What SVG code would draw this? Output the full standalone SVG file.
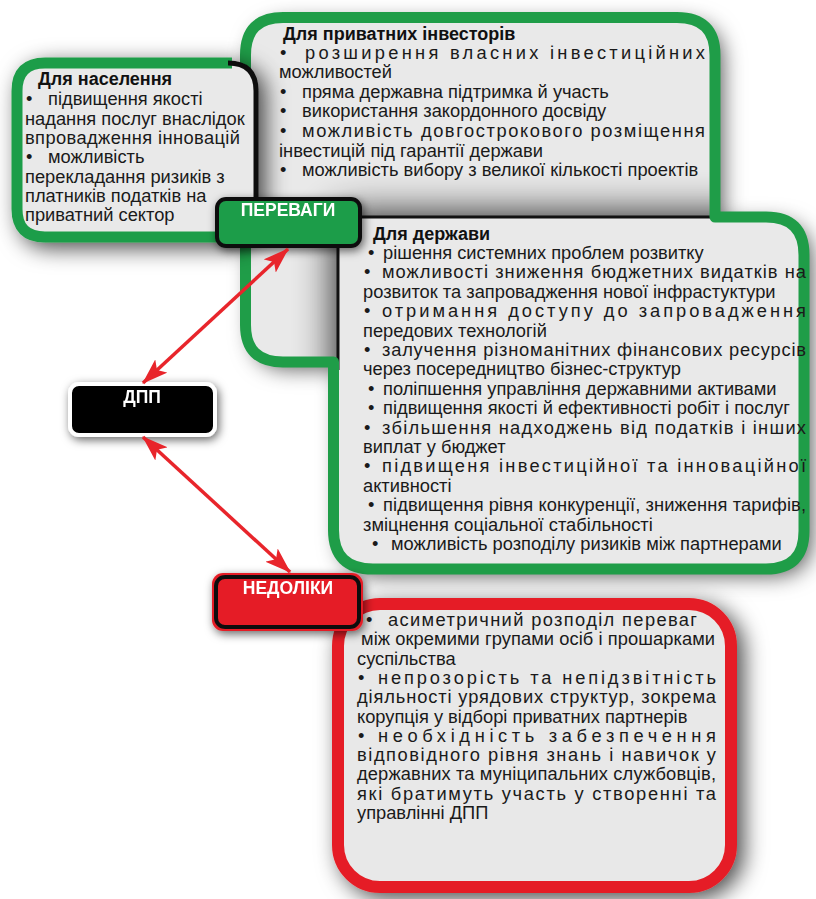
<svg xmlns="http://www.w3.org/2000/svg" width="816" height="899" viewBox="0 0 816 899">
<defs>
<style>
.t{font-family:"Liberation Sans",Arial,sans-serif;font-size:18.3px;fill:#1a1a1a}
.h{font-family:"Liberation Sans",Arial,sans-serif;font-size:18px;font-weight:bold;fill:#111}
.lbl{font-family:"Liberation Sans",Arial,sans-serif;font-size:17.5px;font-weight:bold;fill:#fff;text-anchor:middle}
.gr{stroke:#1f9d48;stroke-width:11;fill:none;stroke-linejoin:round}
.conn{stroke:#e8252b;stroke-width:3.5;fill:none;marker-start:url(#ah);marker-end:url(#ah)}
</style>
<filter id="sh" x="-25%" y="-25%" width="150%" height="150%">
<feGaussianBlur in="SourceAlpha" stdDeviation="11"/>
<feOffset dx="7" dy="6" result="b"/>
<feFlood flood-color="#000" flood-opacity="0.7"/>
<feComposite in2="b" operator="in"/>
<feMerge><feMergeNode/><feMergeNode in="SourceGraphic"/></feMerge>
</filter>
<filter id="sh2" x="-30%" y="-40%" width="160%" height="180%">
<feGaussianBlur in="SourceAlpha" stdDeviation="5"/>
<feOffset dx="2" dy="3" result="b"/>
<feFlood flood-color="#000" flood-opacity="0.6"/>
<feComposite in2="b" operator="in"/>
<feMerge><feMergeNode/><feMergeNode in="SourceGraphic"/></feMerge>
</filter>
<filter id="bl" x="-50%" y="-50%" width="200%" height="200%"><feGaussianBlur stdDeviation="20"/></filter>
<clipPath id="bigClip">
<path d="M245.5,55 Q245.5,17.5 283,17.5 L677,17.5 Q715,17.5 715,55 L715,217 L766,217 Q804,217 804,255 L804,531 Q804,569 766,569 L373,569 Q333.5,569 333.5,530 L333.5,362 L283,362 Q245.5,362 245.5,325 Z"/>
</clipPath>
<marker id="ah" viewBox="0 0 26 18" refX="25" refY="9" markerWidth="26" markerHeight="18" markerUnits="userSpaceOnUse" orient="auto-start-reverse">
<path d="M0,0 L26,9 L0,18 L6,9 Z" fill="#e8252b"/>
</marker>
</defs>
<rect width="816" height="899" fill="#fff"/>

<g id="advantages-frame">
<path d="M245.5,55 Q245.5,17.5 283,17.5 L677,17.5 Q715,17.5 715,55 L715,217 L766,217 Q804,217 804,255 L804,531 Q804,569 766,569 L373,569 Q333.5,569 333.5,530 L333.5,362 L283,362 Q245.5,362 245.5,325 Z" fill="#e9e9e9" filter="url(#sh)"/>
<g clip-path="url(#bigClip)">
<rect x="336" y="215" width="480" height="400" fill="#000" opacity="0.9" filter="url(#bl)"/>
<rect x="338" y="217" width="480" height="400" fill="#e9e9e9"/>
<path d="M712,217 L338,217 L338,370" stroke="#111" stroke-width="3" fill="none"/>
</g>
<path class="gr" d="M245.5,55 Q245.5,17.5 283,17.5 L677,17.5 Q715,17.5 715,55 L715,217 L766,217 Q804,217 804,255 L804,531 Q804,569 766,569 L373,569 Q333.5,569 333.5,530 L333.5,362 L283,362 Q245.5,362 245.5,325 Z"/>
</g>

<g id="investors">
<text class="h" x="283" y="40">Для приватних інвесторів</text>
<text class="t" x="280" y="59">•</text><text class="t" x="305" y="59" textLength="400" lengthAdjust="spacing">розширення власних інвестиційних</text>
<text class="t" x="279" y="78">можливостей</text>
<text class="t" x="280" y="98">•</text><text class="t" x="302" y="98">пряма державна підтримка й участь</text>
<text class="t" x="280" y="117">•</text><text class="t" x="302" y="117">використання закордонного досвіду</text>
<text class="t" x="280" y="137">•</text><text class="t" x="302" y="137" textLength="403" lengthAdjust="spacing">можливість довгострокового розміщення</text>
<text class="t" x="279" y="157">інвестицій під гарантії держави</text>
<text class="t" x="280" y="176">•</text><text class="t" x="302" y="176">можливість вибору з великої кількості проектів</text>
</g>

<g id="population" filter="url(#sh)">
<rect x="17" y="63" width="239" height="174" rx="28" fill="#e9e9e9"/>
<path class="gr" d="M232,63 L45,63 Q17,63 17,91 L17,209 Q17,237 45,237 L240,237"/>
<path d="M228,63 Q256,63 256,91 L256,237" stroke="#111" stroke-width="5" fill="none"/>
</g>
<g id="population-text">
<text class="h" x="38" y="85">Для населення</text>
<text class="t" x="26" y="105">•</text><text class="t" x="48" y="105">підвищення якості</text>
<text class="t" x="25" y="125">надання послуг внаслідок</text>
<text class="t" x="25" y="144" textLength="215" lengthAdjust="spacing">впровадження інновацій</text>
<text class="t" x="26" y="163">•</text><text class="t" x="48" y="163">можливість</text>
<text class="t" x="25" y="183">перекладання ризиків з</text>
<text class="t" x="25" y="202">платників податків на</text>
<text class="t" x="25" y="221">приватний сектор</text>
</g>

<g id="state">
<text class="h" x="373" y="240">Для держави</text>
<text class="t" x="368" y="259">•</text><text class="t" x="383" y="259">рішення системних проблем розвитку</text>
<text class="t" x="364" y="278.4">•</text><text class="t" x="382" y="278.4" textLength="424" lengthAdjust="spacing">можливості зниження бюджетних видатків на</text>
<text class="t" x="363" y="297.8">розвиток та запровадження нової інфрастуктури</text>
<text class="t" x="364" y="317.2">•</text><text class="t" x="382" y="317.2" textLength="424" lengthAdjust="spacing">отримання доступу до запровадження</text>
<text class="t" x="363" y="336.6">передових технологій</text>
<text class="t" x="364" y="356">•</text><text class="t" x="382" y="356" textLength="424" lengthAdjust="spacing">залучення різноманітних фінансових ресурсів</text>
<text class="t" x="363" y="375.4">через посередництво бізнес-структур</text>
<text class="t" x="368" y="394.8">•</text><text class="t" x="383" y="394.8">поліпшення управління державними активами</text>
<text class="t" x="368" y="414.2">•</text><text class="t" x="383" y="414.2">підвищення якості й ефективності робіт і послуг</text>
<text class="t" x="364" y="433.6">•</text><text class="t" x="382" y="433.6" textLength="424" lengthAdjust="spacing">збільшення надходжень від податків і інших</text>
<text class="t" x="363" y="453">виплат у бюджет</text>
<text class="t" x="364" y="472.4">•</text><text class="t" x="382" y="472.4" textLength="424" lengthAdjust="spacing">підвищеня інвестиційної та інноваційної</text>
<text class="t" x="363" y="491.8">активності</text>
<text class="t" x="368" y="511.2">•</text><text class="t" x="383" y="511.2" textLength="423" lengthAdjust="spacing">підвищення рівня конкуренції, зниження тарифів,</text>
<text class="t" x="363" y="530.6">зміцнення соціальної стабільності</text>
<text class="t" x="372" y="550">•</text><text class="t" x="391" y="550">можливість розподілу ризиків між партнерами</text>
</g>

<g id="label-advantages" filter="url(#sh2)">
<rect x="217" y="199" width="143" height="47" rx="9" fill="#1f9d48" stroke="#111" stroke-width="4"/>
<text class="lbl" x="288" y="216">ПЕРЕВАГИ</text>
</g>

<g id="disadvantages">
<rect x="338" y="604" width="393" height="283" rx="42" fill="#e8e8e8" stroke="#e51e25" stroke-width="12" filter="url(#sh)"/>
<text class="t" x="366" y="626">•</text><text class="t" x="388" y="626" textLength="309" lengthAdjust="spacing">асиметричний розподіл переваг</text>
<text class="t" x="361" y="645.3" textLength="354" lengthAdjust="spacing">між окремими групами осіб і прошарками</text>
<text class="t" x="357" y="664.6">суспільства</text>
<text class="t" x="358" y="683.9">•</text><text class="t" x="378" y="683.9" textLength="338" lengthAdjust="spacing">непрозорість та непідзвітність</text>
<text class="t" x="357" y="703.2" textLength="359" lengthAdjust="spacing">діяльності урядових структур, зокрема</text>
<text class="t" x="357" y="722.5">корупція у відборі приватних партнерів</text>
<text class="t" x="358" y="741.8">•</text><text class="t" x="378" y="741.8" textLength="338" lengthAdjust="spacing">необхідність забезпечення</text>
<text class="t" x="357" y="761.1" textLength="359" lengthAdjust="spacing">відповідного рівня знань і навичок у</text>
<text class="t" x="357" y="780.4" textLength="359" lengthAdjust="spacing">державних та муніципальних службовців,</text>
<text class="t" x="357" y="799.7" textLength="359" lengthAdjust="spacing">які братимуть участь у створенні та</text>
<text class="t" x="357" y="819">управлінні ДПП</text>
</g>

<g id="label-disadvantages" filter="url(#sh2)">
<rect x="212" y="573" width="151" height="58" rx="11" fill="#e51e25"/>
<rect x="216" y="577" width="143" height="50" rx="9" fill="#e51e25" stroke="#111" stroke-width="4"/>
<text class="lbl" x="288" y="594">НЕДОЛІКИ</text>
</g>

<g id="ppp" filter="url(#sh2)">
<rect x="70" y="384" width="145" height="51" rx="9" fill="#000" stroke="#fff" stroke-width="4"/>
<text class="lbl" x="142" y="403" font-size="16">ДПП</text>
</g>

<g id="connectors">
<line class="conn" x1="143" y1="383" x2="288" y2="249"/>
<line class="conn" x1="143" y1="437" x2="290" y2="572"/>
</g>
</svg>
